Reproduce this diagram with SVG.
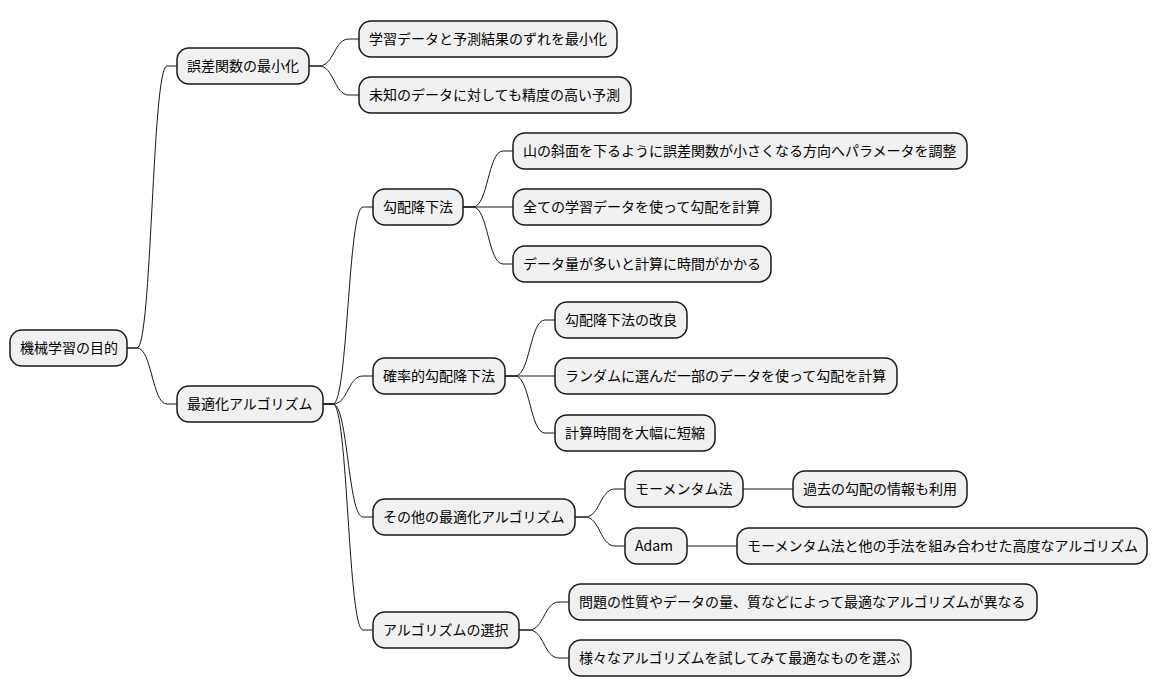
<svg xmlns="http://www.w3.org/2000/svg" width="1159" height="696" viewBox="0 0 1159 696">
<style>
.n rect{fill:#f1f1f1;stroke:#181818;stroke-width:1.5}
.n text{font-family:"Noto Sans CJK JP","DejaVu Sans",sans-serif;font-size:14px;fill:#000}
.c path{fill:none;stroke:#181818;stroke-width:1}
</style>
<rect width="1159" height="696" fill="#fff"/>
<g class="c">
<path d="M127,348 L137,348 C152,348 152,66 167,66 L177,66"/>
<path d="M127,348 L137,348 C152,348 152,404 167,404 L177,404"/>
<path d="M309,66 L319,66 C334,66 334,39 349,39 L359,39"/>
<path d="M309,66 L319,66 C334,66 334,95 349,95 L359,95"/>
<path d="M323,404 L333,404 C348,404 348,207 363,207 L373,207"/>
<path d="M323,404 L333,404 C348,404 348,376 363,376 L373,376"/>
<path d="M323,404 L333,404 C348,404 348,517 363,517 L373,517"/>
<path d="M323,404 L333,404 C348,404 348,630 363,630 L373,630"/>
<path d="M463,207 L473,207 C488,207 488,151 503,151 L513,151"/>
<path d="M463,207 L513,207"/>
<path d="M463,207 L473,207 C488,207 488,264 503,264 L513,264"/>
<path d="M505,376 L515,376 C530,376 530,320 545,320 L555,320"/>
<path d="M505,376 L555,376"/>
<path d="M505,376 L515,376 C530,376 530,433 545,433 L555,433"/>
<path d="M575,517 L585,517 C600,517 600,489 615,489 L625,489"/>
<path d="M575,517 L585,517 C600,517 600,546 615,546 L625,546"/>
<path d="M743,489 L793,489"/>
<path d="M687,546 L737,546"/>
<path d="M519,630 L529,630 C544,630 544,602 559,602 L569,602"/>
<path d="M519,630 L529,630 C544,630 544,658 559,658 L569,658"/>
</g>
<g id="root" class="n"><rect x="10" y="330" width="117" height="36" rx="12"/><text x="20" y="353">機械学習の目的</text></g>
<g id="n1" class="n"><rect x="177" y="48" width="132" height="36" rx="12"/><text x="187" y="71">誤差関数の最小化</text></g>
<g id="n2" class="n"><rect x="177" y="386" width="146" height="36" rx="12"/><text x="187" y="409">最適化アルゴリズム</text></g>
<g id="n11" class="n"><rect x="359" y="21" width="258" height="36" rx="12"/><text x="369" y="44">学習データと予測結果のずれを最小化</text></g>
<g id="n12" class="n"><rect x="359" y="77" width="272" height="36" rx="12"/><text x="369" y="100">未知のデータに対しても精度の高い予測</text></g>
<g id="n21" class="n"><rect x="373" y="189" width="90" height="36" rx="12"/><text x="383" y="212">勾配降下法</text></g>
<g id="n22" class="n"><rect x="373" y="358" width="132" height="36" rx="12"/><text x="383" y="381">確率的勾配降下法</text></g>
<g id="n23" class="n"><rect x="373" y="499" width="202" height="36" rx="12"/><text x="383" y="522">その他の最適化アルゴリズム</text></g>
<g id="n24" class="n"><rect x="373" y="612" width="146" height="36" rx="12"/><text x="383" y="635">アルゴリズムの選択</text></g>
<g id="n211" class="n"><rect x="513" y="133" width="454" height="36" rx="12"/><text x="523" y="156">山の斜面を下るように誤差関数が小さくなる方向へパラメータを調整</text></g>
<g id="n212" class="n"><rect x="513" y="189" width="258" height="36" rx="12"/><text x="523" y="212">全ての学習データを使って勾配を計算</text></g>
<g id="n213" class="n"><rect x="513" y="246" width="258" height="36" rx="12"/><text x="523" y="269">データ量が多いと計算に時間がかかる</text></g>
<g id="n221" class="n"><rect x="555" y="302" width="132" height="36" rx="12"/><text x="565" y="325">勾配降下法の改良</text></g>
<g id="n222" class="n"><rect x="555" y="358" width="342" height="36" rx="12"/><text x="565" y="381">ランダムに選んだ一部のデータを使って勾配を計算</text></g>
<g id="n223" class="n"><rect x="555" y="415" width="160" height="36" rx="12"/><text x="565" y="438">計算時間を大幅に短縮</text></g>
<g id="n231" class="n"><rect x="625" y="471" width="118" height="36" rx="12"/><text x="635" y="494">モーメンタム法</text></g>
<g id="n232" class="n"><rect x="625" y="528" width="62" height="36" rx="12"/><text x="635" y="551">Adam</text></g>
<g id="n2311" class="n"><rect x="793" y="471" width="174" height="36" rx="12"/><text x="803" y="494">過去の勾配の情報も利用</text></g>
<g id="n2321" class="n"><rect x="737" y="528" width="410" height="36" rx="12"/><text x="747" y="551">モーメンタム法と他の手法を組み合わせた高度なアルゴリズム</text></g>
<g id="n241" class="n"><rect x="569" y="584" width="468" height="36" rx="12"/><text x="579" y="607">問題の性質やデータの量、質などによって最適なアルゴリズムが異なる</text></g>
<g id="n242" class="n"><rect x="569" y="640" width="342" height="36" rx="12"/><text x="579" y="663">様々なアルゴリズムを試してみて最適なものを選ぶ</text></g>
</svg>
